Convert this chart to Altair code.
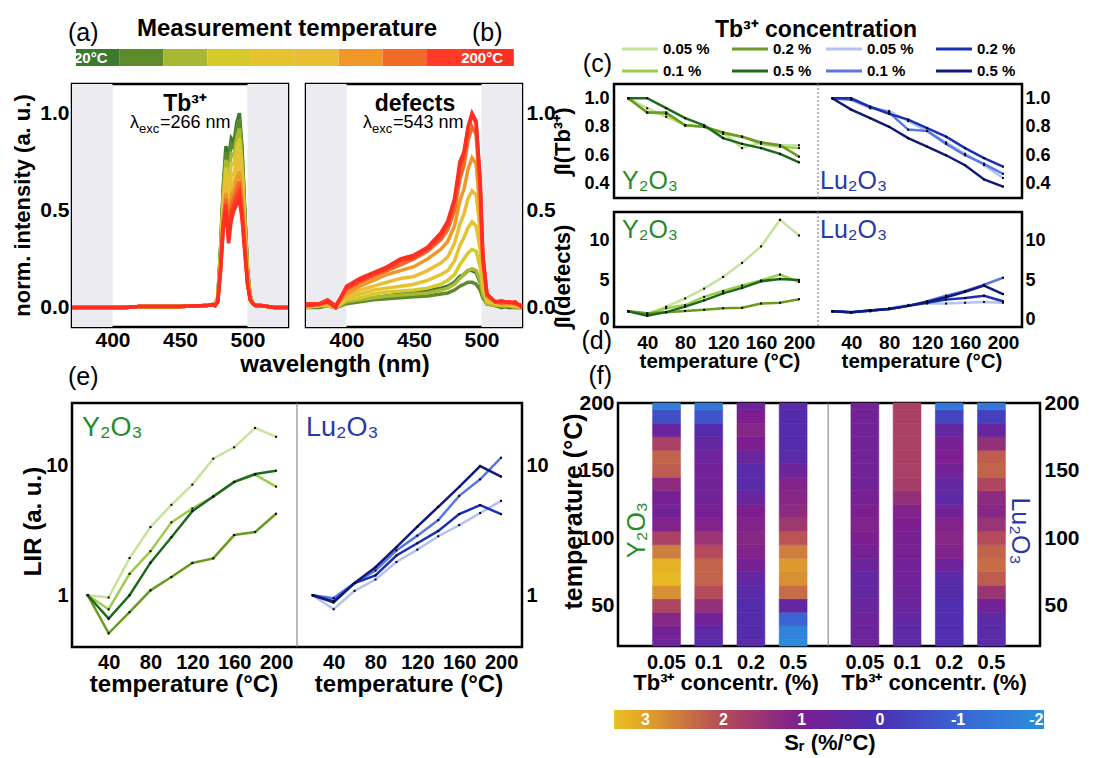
import altair as alt
import pandas as pd

FONT = "Liberation Sans"

# ---------------- measurement temperature colour bar ----------------
temps = [20, 40, 60, 80, 100, 120, 140, 160, 180, 200]
temp_colors = ["#3b7a2f", "#5f8a2c", "#a9b833", "#d5c92b", "#e6c231",
               "#ebbd34", "#ef9828", "#f26a28", "#ff3a26", "#ff2e22"]

# ---------------- (a) Tb3+ emission spectra ----------------
tb_wl_low = [370, 380, 390, 400, 410, 420, 430, 440, 450, 460, 470, 474]
tb_base_low = [0.0, 0.0, 0.0, 0.0, 0.0, 0.005, 0.005, 0.005, 0.005, 0.008, 0.01, 0.015]
tb_wl_peak = [476, 478, 480, 482, 484, 486, 488, 490, 492, 494, 496, 498, 500, 502, 504, 506]
tb_peak = {
    20: [0.02, 0.05, 0.30, 0.62, 0.83, 0.77, 0.87, 0.85, 0.95, 1.00, 0.82, 0.50, 0.20, 0.06, 0.02, 0.01],
    40: [0.02, 0.05, 0.29, 0.60, 0.80, 0.73, 0.84, 0.82, 0.92, 0.97, 0.79, 0.48, 0.19, 0.06, 0.02, 0.01],
    60: [0.02, 0.05, 0.28, 0.58, 0.76, 0.68, 0.79, 0.78, 0.87, 0.92, 0.75, 0.46, 0.18, 0.06, 0.02, 0.01],
    80: [0.02, 0.04, 0.26, 0.55, 0.72, 0.62, 0.74, 0.74, 0.82, 0.87, 0.71, 0.43, 0.17, 0.05, 0.02, 0.01],
    100: [0.02, 0.04, 0.25, 0.52, 0.67, 0.56, 0.68, 0.69, 0.76, 0.81, 0.66, 0.40, 0.16, 0.05, 0.02, 0.01],
    120: [0.01, 0.04, 0.23, 0.49, 0.63, 0.50, 0.63, 0.65, 0.71, 0.76, 0.62, 0.37, 0.15, 0.05, 0.02, 0.01],
    140: [0.01, 0.04, 0.22, 0.46, 0.59, 0.45, 0.58, 0.61, 0.66, 0.70, 0.57, 0.35, 0.14, 0.05, 0.02, 0.01],
    160: [0.01, 0.03, 0.21, 0.44, 0.56, 0.40, 0.53, 0.57, 0.61, 0.65, 0.52, 0.32, 0.13, 0.04, 0.02, 0.01],
    180: [0.01, 0.03, 0.19, 0.42, 0.53, 0.36, 0.49, 0.53, 0.57, 0.60, 0.48, 0.30, 0.12, 0.04, 0.02, 0.01],
    200: [0.01, 0.03, 0.18, 0.40, 0.50, 0.33, 0.45, 0.50, 0.53, 0.56, 0.45, 0.28, 0.12, 0.04, 0.02, 0.01],
}
tb_wl_high = [510, 515, 520, 525, 530]
tb_base_high = [0.01, 0.005, 0.0, 0.0, 0.0]

# ---------------- (b) defect emission spectra ----------------
def_wl = [370, 380, 386, 392, 400, 410, 420, 430, 440, 450, 460, 470, 475, 480,
          484, 487, 490, 493, 496, 499, 501, 504, 510, 515, 520, 525, 530]
def_spec = {
    20: [0.0, 0.01, 0.01, 0.0, 0.025, 0.04, 0.05, 0.06, 0.07, 0.08, 0.085, 0.10, 0.11, 0.13, 0.16, 0.17, 0.19, 0.19, 0.18, 0.13, 0.06, 0.02, 0.01, 0.01, 0.0, 0.0, 0.0],
    40: [0.0, 0.0, 0.01, 0.0, 0.02, 0.03, 0.04, 0.045, 0.05, 0.055, 0.06, 0.07, 0.075, 0.09, 0.11, 0.12, 0.13, 0.13, 0.12, 0.09, 0.05, 0.02, 0.01, 0.0, 0.01, 0.0, 0.0],
    60: [0.0, 0.01, 0.01, 0.0, 0.03, 0.04, 0.05, 0.06, 0.065, 0.07, 0.075, 0.09, 0.10, 0.12, 0.15, 0.17, 0.19, 0.20, 0.19, 0.14, 0.07, 0.02, 0.01, 0.01, 0.01, 0.0, 0.0],
    80: [0.0, 0.01, 0.01, 0.0, 0.04, 0.05, 0.07, 0.08, 0.085, 0.09, 0.10, 0.12, 0.14, 0.17, 0.22, 0.25, 0.28, 0.30, 0.29, 0.21, 0.10, 0.03, 0.02, 0.01, 0.01, 0.01, 0.0],
    100: [0.01, 0.01, 0.02, 0.0, 0.05, 0.07, 0.09, 0.10, 0.11, 0.12, 0.14, 0.17, 0.19, 0.24, 0.32, 0.36, 0.41, 0.44, 0.42, 0.30, 0.14, 0.04, 0.02, 0.02, 0.01, 0.01, 0.0],
    120: [0.01, 0.01, 0.02, 0.01, 0.06, 0.09, 0.11, 0.13, 0.15, 0.16, 0.19, 0.23, 0.26, 0.33, 0.43, 0.48, 0.56, 0.60, 0.58, 0.40, 0.18, 0.05, 0.02, 0.02, 0.02, 0.01, 0.01],
    140: [0.01, 0.02, 0.02, 0.01, 0.07, 0.11, 0.14, 0.17, 0.19, 0.21, 0.25, 0.30, 0.34, 0.42, 0.55, 0.61, 0.71, 0.77, 0.74, 0.50, 0.22, 0.06, 0.03, 0.02, 0.02, 0.02, 0.01],
    160: [0.01, 0.02, 0.03, 0.01, 0.09, 0.13, 0.16, 0.19, 0.22, 0.25, 0.29, 0.35, 0.40, 0.50, 0.66, 0.73, 0.86, 0.93, 0.89, 0.60, 0.25, 0.06, 0.03, 0.02, 0.03, 0.02, 0.01],
    180: [0.02, 0.02, 0.04, 0.01, 0.10, 0.14, 0.17, 0.20, 0.24, 0.26, 0.30, 0.37, 0.43, 0.55, 0.72, 0.79, 0.92, 0.99, 0.95, 0.64, 0.26, 0.07, 0.03, 0.03, 0.03, 0.02, 0.01],
    200: [0.01, 0.015, 0.03, 0.0, 0.11, 0.15, 0.18, 0.21, 0.25, 0.27, 0.31, 0.385, 0.445, 0.56, 0.75, 0.80, 0.93, 1.0, 0.96, 0.66, 0.27, 0.07, 0.03, 0.035, 0.025, 0.03, 0.0],
}

# ---------------- (c)(d)(e) integrated intensities and LIR ----------------
T_series = [20, 40, 60, 80, 100, 120, 140, 160, 180, 200]
hosts = ["Y2O3", "Lu2O3"]
concs = ["0.05 %", "0.1 %", "0.2 %", "0.5 %"]
series_colors = {
    "Y2O3 0.05 %": "#c5e39a", "Y2O3 0.1 %": "#9ccc4c",
    "Y2O3 0.2 %": "#6b9a22", "Y2O3 0.5 %": "#1c6b1c",
    "Lu2O3 0.05 %": "#b4c2f0", "Lu2O3 0.1 %": "#5a78e2",
    "Lu2O3 0.2 %": "#1a30b4", "Lu2O3 0.5 %": "#101a7c",
}
tb_int = {
    "Y2O3 0.05 %": [1.0, 0.93, 0.87, 0.81, 0.80, 0.76, 0.65, 0.69, 0.67, 0.67],
    "Y2O3 0.1 %": [1.0, 0.90, 0.89, 0.81, 0.80, 0.75, 0.73, 0.68, 0.66, 0.65],
    "Y2O3 0.2 %": [1.0, 0.90, 0.90, 0.81, 0.80, 0.76, 0.73, 0.69, 0.67, 0.59],
    "Y2O3 0.5 %": [1.0, 1.0, 0.93, 0.86, 0.81, 0.72, 0.68, 0.65, 0.61, 0.55],
    "Lu2O3 0.05 %": [1.0, 0.99, 0.93, 0.91, 0.84, 0.77, 0.69, 0.61, 0.53, 0.44],
    "Lu2O3 0.1 %": [1.0, 0.99, 0.94, 0.90, 0.78, 0.77, 0.68, 0.60, 0.54, 0.47],
    "Lu2O3 0.2 %": [1.0, 1.0, 0.94, 0.89, 0.85, 0.79, 0.73, 0.65, 0.58, 0.52],
    "Lu2O3 0.5 %": [1.0, 0.92, 0.86, 0.80, 0.72, 0.66, 0.60, 0.53, 0.43, 0.38],
}
def_int = {
    "Y2O3 0.05 %": [1.0, 0.63, 1.6, 2.65, 3.9, 5.4, 7.2, 9.3, 12.7, 10.7],
    "Y2O3 0.1 %": [1.0, 0.6, 1.4, 1.8, 2.85, 3.6, 4.3, 4.95, 5.7, 4.75],
    "Y2O3 0.2 %": [1.0, 0.75, 0.9, 1.05, 1.2, 1.4, 1.45, 2.0, 2.1, 2.55],
    "Y2O3 0.5 %": [1.0, 0.45, 0.9, 1.6, 2.4, 3.3, 4.0, 4.85, 5.15, 5.0],
    "Lu2O3 0.05 %": [1.0, 0.85, 1.0, 1.4, 1.8, 2.0, 2.0, 2.1, 2.2, 2.1],
    "Lu2O3 0.1 %": [1.0, 0.9, 1.1, 1.3, 1.7, 2.3, 3.0, 3.6, 4.4, 5.3],
    "Lu2O3 0.2 %": [1.0, 0.9, 1.1, 1.3, 1.7, 2.1, 2.5, 2.7, 3.0, 2.3],
    "Lu2O3 0.5 %": [1.0, 0.9, 1.1, 1.3, 1.7, 2.2, 2.8, 3.5, 4.3, 3.2],
}
lir = {
    "Y2O3 0.05 %": [1.0, 0.96, 1.93, 3.34, 4.95, 7.08, 11.2, 13.7, 19.3, 16.5],
    "Y2O3 0.1 %": [1.0, 0.78, 1.46, 2.18, 3.63, 4.64, 5.73, 7.42, 8.44, 6.83],
    "Y2O3 0.2 %": [1.0, 0.51, 0.74, 1.09, 1.38, 1.77, 1.92, 2.90, 3.06, 4.23],
    "Y2O3 0.5 %": [1.0, 0.66, 1.0, 1.78, 2.79, 4.43, 5.73, 7.42, 8.53, 9.06],
    "Lu2O3 0.05 %": [1.0, 0.78, 1.08, 1.32, 1.80, 2.24, 2.84, 3.46, 4.28, 5.31],
    "Lu2O3 0.1 %": [1.0, 0.95, 1.24, 1.55, 2.21, 2.87, 3.78, 5.8, 7.78, 11.4],
    "Lu2O3 0.2 %": [1.0, 0.90, 1.24, 1.42, 2.02, 2.51, 3.12, 4.2, 4.92, 4.2],
    "Lu2O3 0.5 %": [1.0, 0.88, 1.24, 1.64, 2.34, 3.36, 4.78, 6.79, 9.82, 8.15],
}

# ---------------- (f) relative sensitivity maps ----------------
heat_T = [20, 30, 40, 50, 60, 70, 80, 90, 100, 110, 120, 130, 140, 150, 160, 170, 180, 190, 200]
sr_map = {
    "Y2O3 0.05 %": [0.7, 0.8, 1.2, 1.9, 2.8, 3.3, 3.2, 2.6, 1.8, 1.1, 0.8, 0.9, 1.3, 2.2, 2.3, 1.8, 0.6, -0.6, -1.6],
    "Y2O3 0.1 %": [0.3, 0.4, 0.8, 1.4, 2.0, 2.3, 2.3, 2.0, 1.5, 1.1, 0.9, 0.8, 0.8, 0.8, 0.7, 0.5, 0.2, -0.7, -1.5],
    "Y2O3 0.2 %": [0.3, 0.2, 0.2, 0.2, 0.3, 0.5, 0.9, 1.1, 1.2, 1.1, 1.0, 0.6, 0.3, 0.3, 0.6, 1.0, 1.2, 1.0, 0.7],
    "Y2O3 0.5 %": [-2.0, -1.8, -1.0, 0.5, 2.4, 2.8, 2.9, 2.6, 2.1, 1.6, 1.3, 1.2, 1.1, 0.7, 0.3, 0.2, 0.2, 0.2, 0.3],
    "Lu2O3 0.05 %": [0.7, 0.7, 0.7, 0.6, 0.5, 0.5, 0.7, 0.9, 1.0, 1.1, 1.0, 0.9, 0.8, 0.8, 0.8, 0.8, 0.8, 0.8, 0.8],
    "Lu2O3 0.1 %": [0.4, 0.4, 0.5, 0.6, 0.7, 0.8, 0.8, 0.9, 0.9, 1.0, 1.1, 1.4, 1.7, 1.8, 1.8, 1.8, 1.8, 1.8, 1.8],
    "Lu2O3 0.2 %": [0.1, 0.1, 0.1, 0.1, 0.2, 0.3, 0.7, 1.1, 1.2, 1.1, 0.8, 0.4, 0.5, 0.8, 1.0, 0.9, 0.5, -0.4, -1.5],
    "Lu2O3 0.5 %": [0.3, 0.3, 0.4, 0.8, 1.5, 2.2, 2.4, 2.3, 2.0, 1.5, 1.2, 1.3, 1.9, 2.3, 2.2, 1.4, 0.6, -0.3, -1.5],
}
sr_stops = [-2.1, -1.0, 0.0, 1.0, 2.0, 3.0, 3.4]
sr_colors = ["#2b8fdc", "#3a64d2", "#4a30b2", "#7c1e90", "#b54a5a", "#e0a22a", "#ebc022"]
sr_ticks = [3, 2, 1, 0, -1, -2]

# ================= data frames =================
rows = []
for T in temps:
    wl_all = tb_wl_low + tb_wl_peak + tb_wl_high
    v_all = tb_base_low + tb_peak[T] + tb_base_high
    for w, v in zip(wl_all, v_all):
        rows.append({"T": T, "wl": w, "v": v})
df_tb = pd.DataFrame(rows)

rows = []
for T in temps:
    for w, v in zip(def_wl, def_spec[T]):
        rows.append({"T": T, "wl": w, "v": v})
df_def = pd.DataFrame(rows)

LU_SHIFT = 215
rows = []
for host in hosts:
    for conc in concs:
        s = host + " " + conc
        for i, T in enumerate(T_series):
            rows.append({"series": s, "T": T,
                         "xpos": T + (LU_SHIFT if host == "Lu2O3" else 0),
                         "tb": tb_int[s][i], "de": def_int[s][i], "lir": lir[s][i]})
df_lines = pd.DataFrame(rows)

series_names = list(series_colors.keys())
series_scale = alt.Scale(domain=series_names, range=[series_colors[s] for s in series_names])
temp_scale = alt.Scale(domain=temps, range=temp_colors)
sr_scale = alt.Scale(domain=sr_stops, range=sr_colors, interpolate="rgb")

rows = []
for host in hosts:
    for k, conc in enumerate(concs):
        s = host + " " + conc
        pos = (1.15 if host == "Y2O3" else 5.85) + k
        vals = sr_map[s]
        for j, T in enumerate(heat_T):
            rows.append({"series": s, "x1": pos - 0.33, "x2": pos + 0.33,
                         "y1": max(T - 5, 20), "y2": min(T + 5, 200), "sr": vals[j]})
df_heat = pd.DataFrame(rows)
df_flab = pd.DataFrame({
    "pos": [1.15 + k for k in range(4)] + [5.85 + k for k in range(4)],
    "lab": [c.replace(" %", "") for c in concs] * 2,
})

NOSTROKE = alt.ViewBackground(stroke="transparent")


def txt(s, x, y, size, weight="normal", color="black", align="left",
        baseline="alphabetic", angle=0):
    return alt.Chart(pd.DataFrame({"s": [s]})).mark_text(
        align=align, baseline=baseline, fontSize=size, fontWeight=weight,
        color=color, font=FONT, angle=angle
    ).encode(text="s:N", x=alt.value(x), y=alt.value(y))


def lam(x, y, rest):
    return [txt("λ", x, y, 18), txt("exc", x + 9, y + 5, 13), txt(rest, x + 30, y, 18)]


# ================= top row: temperature bar + legend =================
df_tbar = pd.DataFrame({"T": temps, "i0": list(range(10)), "i1": list(range(1, 11))})
tbar = alt.layer(
    alt.Chart(pd.DataFrame({"a": [0]})).mark_rect(opacity=0).encode(
        x=alt.value(-70), x2=alt.value(-68), y=alt.value(-47), y2=alt.value(-45)),
    alt.Chart(df_tbar).mark_rect().encode(
        x=alt.X("i0:Q", scale=alt.Scale(domain=[-0.09, 9.89], nice=False, zero=False), axis=None),
        x2="i1:Q",
        color=alt.Color("T:O", scale=temp_scale, legend=None)),
    txt("20°C", 2, 9, 15, "bold", "white", baseline="middle"),
    txt("200°C", 431, 9, 15, "bold", "white", align="right", baseline="middle"),
    txt("Measurement temperature", 215, -13, 24, "bold", align="center"),
    txt("(a)", -4, -8, 25),
    txt("(b)", 400, -8, 25),
).properties(width=437, height=17, view=NOSTROKE)

leg_cols = [["Y2O3 0.05 %", "Y2O3 0.1 %"], ["Y2O3 0.2 %", "Y2O3 0.5 %"],
            ["Lu2O3 0.05 %", "Lu2O3 0.1 %"], ["Lu2O3 0.2 %", "Lu2O3 0.5 %"]]
leg_x0 = [8, 118, 212, 322]
rows = []
for c, pair in enumerate(leg_cols):
    for r, s in enumerate(pair):
        rows.append({"series": s, "lab": s.split(" ", 1)[1], "row": r,
                     "x0": leg_x0[c], "x1": leg_x0[c] + 36, "xt": leg_x0[c] + 41})
df_leg = pd.DataFrame(rows)
leg_xs = alt.Scale(domain=[0, 408], nice=False, zero=False)
leg_ys = alt.Scale(domain=[0, 1], range=[0, 22])
legend_view = alt.layer(
    alt.Chart(df_leg).mark_rule(strokeWidth=3).encode(
        x=alt.X("x0:Q", scale=leg_xs, axis=None), x2="x1:Q",
        y=alt.Y("row:Q", scale=leg_ys, axis=None),
        color=alt.Color("series:N", scale=series_scale, legend=None)),
    alt.Chart(df_leg).mark_text(align="left", baseline="middle", fontSize=15,
                                fontWeight="bold", font=FONT, color="black").encode(
        x=alt.X("xt:Q", scale=leg_xs, axis=None),
        y=alt.Y("row:Q", scale=leg_ys, axis=None), text="lab:N"),
    txt("Tb³⁺ concentration", 202, -12, 23, "bold", align="center"),
    txt("(c)", -2, 23, 25, align="right"),
).properties(width=408, height=17, view=NOSTROKE)

# ================= (a) and (b) =================
wl_scale = alt.Scale(domain=[370, 530], nice=False, zero=False)
int_scale = alt.Scale(domain=[-0.1, 1.15], nice=False, zero=False)


def x_wl(field):
    return alt.X(field, scale=wl_scale,
                 axis=alt.Axis(values=[400, 450, 500], title=None, labelFontSize=21, labelPadding=2))


shade_df = pd.DataFrame({"s0": [370, 500], "s1": [400, 530]})


def spectra_panel(df, right):
    shade = alt.Chart(shade_df).mark_rect(color="#ececf0").encode(x=x_wl("s0:Q"), x2="s1:Q")
    if right:
        yax = alt.Axis(values=[0, 0.5, 1.0], format=".1f", title=None, orient="right",
                       labelFontSize=21, labelPadding=4)
    else:
        yax = alt.Axis(values=[0, 0.5, 1.0], format=".1f", title="norm. intensity (a. u.)",
                       titleFontSize=22, labelFontSize=21, labelPadding=3,
                       titleX=-50, titleY=121, titleAlign="center", titleBaseline="middle")
    lines = alt.Chart(df).mark_line(strokeWidth=3.5).encode(
        x=x_wl("wl:Q"), y=alt.Y("v:Q", scale=int_scale, axis=yax),
        color=alt.Color("T:O", scale=temp_scale, legend=None),
        order=alt.Order("wl:Q"))
    return shade, lines


sa, la = spectra_panel(df_tb, False)
panel_a = alt.layer(
    sa, la,
    txt("Tb³⁺", 113, 27, 23, "bold", align="center"),
    *lam(58, 44, "=266 nm"),
).properties(width=216, height=243)

sb, lb = spectra_panel(df_def, True)
panel_b = alt.layer(
    sb, lb,
    txt("defects", 109, 27, 23, "bold", align="center"),
    *lam(57, 44, "=543 nm"),
    txt("wavelength (nm)", 29, 288, 24, "bold", align="center"),
).properties(width=216, height=243)

# ================= (c) and (d) =================
XT_VALUES = [40, 80, 120, 160, 200, 255, 295, 335, 375, 415]
T_LABEL_EXPR = "datum.value > 220 ? '' + (datum.value - 215) : '' + datum.value"
xT_scale = alt.Scale(domain=[5, 435], nice=False, zero=False)


def x_temp(field, labels, size=19, pad=6):
    if labels:
        ax = alt.Axis(values=XT_VALUES, labelExpr=T_LABEL_EXPR, title=None,
                      labelFontSize=size, labelPadding=pad, labelOverlap=False, labelFlush=False)
        return alt.X(field, scale=xT_scale, axis=ax)
    return alt.X(field, scale=xT_scale, axis=None)


def divider(labels, dashed, size=19, pad=6):
    if dashed:
        mk = dict(color="#888888", strokeWidth=1.2, strokeDash=[2, 2])
    else:
        mk = dict(color="#777777", strokeWidth=1)
    return alt.Chart(pd.DataFrame({"d": [220]})).mark_rule(**mk).encode(
        x=x_temp("d:Q", labels, size, pad))


color_series = alt.Color("series:N", scale=series_scale, legend=None)

tb_scale = alt.Scale(domain=[0.3, 1.1], nice=False, zero=False)
base = alt.Chart(df_lines)
panel_c = alt.layer(
    divider(False, True),
    base.mark_line(strokeWidth=2.5).encode(
        x=x_temp("xpos:Q", False),
        y=alt.Y("tb:Q", scale=tb_scale,
                axis=alt.Axis(values=[0.4, 0.6, 0.8, 1.0], format=".1f", title="∫I(Tb³⁺)",
                              titleFontSize=22, labelFontSize=18, labelPadding=5,
                              titleX=-52, titleY=57, titleAlign="center", titleBaseline="middle")),
        color=color_series),
    base.mark_point(shape="square", size=4, filled=True, color="black", opacity=1).encode(
        x=x_temp("xpos:Q", False),
        y=alt.Y("tb:Q", scale=tb_scale,
                axis=alt.Axis(values=[0.4, 0.6, 0.8, 1.0], format=".1f", title=None,
                              orient="right", labelFontSize=18, labelPadding=3))),
    txt("Y₂O₃", 8, 105, 25, color="#2a8a2a"),
    txt("Lu₂O₃", 206, 105, 25, color="#2a38a8"),
).resolve_scale(y="independent").properties(width=408, height=114)

de_scale = alt.Scale(domain=[-1, 13.7], nice=False, zero=False)
panel_d = alt.layer(
    divider(True, True),
    base.mark_line(strokeWidth=2.5).encode(
        x=x_temp("xpos:Q", True),
        y=alt.Y("de:Q", scale=de_scale,
                axis=alt.Axis(values=[0, 5, 10], title="∫I(defects)",
                              titleFontSize=22, labelFontSize=18, labelPadding=5,
                              titleX=-52, titleY=64, titleAlign="center", titleBaseline="middle")),
        color=color_series),
    base.mark_point(shape="square", size=4, filled=True, color="black", opacity=1).encode(
        x=x_temp("xpos:Q", True),
        y=alt.Y("de:Q", scale=de_scale,
                axis=alt.Axis(values=[0, 5, 10], title=None, orient="right",
                              labelFontSize=18, labelPadding=3))),
    txt("Y₂O₃", 8, 26, 25, color="#2a8a2a"),
    txt("Lu₂O₃", 206, 26, 25, color="#2a38a8"),
    txt("temperature (°C)", 106, 156, 20.5, "bold", align="center"),
    txt("temperature (°C)", 308, 156, 20.5, "bold", align="center"),
    txt("(d)", -2, 137, 25, align="right"),
).resolve_scale(y="independent").properties(width=408, height=115)

# ================= (e) =================
lir_scale = alt.Scale(type="log", domain=[0.4, 30], nice=False)
panel_e = alt.layer(
    divider(True, False, 20, 5),
    base.mark_line(strokeWidth=2.5).encode(
        x=x_temp("xpos:Q", True, 20, 5),
        y=alt.Y("lir:Q", scale=lir_scale,
                axis=alt.Axis(values=[1, 10], format="d", title="LIR (a. u.)",
                              titleFontSize=24, labelFontSize=20, labelPadding=4,
                              titleX=-39, titleY=118, titleAlign="center", titleBaseline="middle")),
        color=color_series),
    base.mark_point(shape="square", size=4, filled=True, color="black", opacity=1).encode(
        x=x_temp("xpos:Q", True, 20, 5),
        y=alt.Y("lir:Q", scale=lir_scale,
                axis=alt.Axis(values=[1, 10], format="d", title=None, orient="right",
                              labelFontSize=20, labelPadding=4))),
    txt("Y₂O₃", 10, 33, 27, color="#2a8a2a"),
    txt("Lu₂O₃", 234, 33, 27, color="#2a38a8"),
    txt("temperature (°C)", 112, 289, 24, "bold", align="center"),
    txt("temperature (°C)", 337, 289, 24, "bold", align="center"),
    txt("(e)", -4, -18, 25),
).resolve_scale(y="independent").properties(width=450, height=244)

# ================= (f) =================
fx_scale = alt.Scale(domain=[0, 10], nice=False, zero=False)
fy_scale = alt.Scale(domain=[20, 200], nice=False, zero=False)
heat_base = alt.Chart(df_heat)
panel_f = alt.layer(
    heat_base.mark_rect(strokeWidth=0.6).encode(
        x=alt.X("x1:Q", scale=fx_scale, axis=None), x2="x2:Q",
        y=alt.Y("y1:Q", scale=fy_scale,
                axis=alt.Axis(values=[50, 100, 150, 200], title="temperature (°C)",
                              titleFontSize=25, labelFontSize=21, labelPadding=4,
                              titleX=-45, titleY=108, titleAlign="center", titleBaseline="middle")),
        y2="y2:Q",
        color=alt.Color("sr:Q", scale=sr_scale, legend=None),
        stroke=alt.Stroke("sr:Q", scale=sr_scale, legend=None)),
    heat_base.mark_rect(opacity=0).encode(
        x=alt.X("x1:Q", scale=fx_scale, axis=None), x2="x2:Q",
        y=alt.Y("y1:Q", scale=fy_scale,
                axis=alt.Axis(values=[50, 100, 150, 200], title=None, orient="right",
                              labelFontSize=21, labelPadding=4)),
        y2="y2:Q"),
    alt.Chart(pd.DataFrame({"d": [4.98]})).mark_rule(color="#777777", strokeWidth=1).encode(
        x=alt.X("d:Q", scale=fx_scale, axis=None)),
    alt.Chart(df_flab).mark_text(fontSize=20, fontWeight="bold", font=FONT, color="black",
                                 baseline="alphabetic").encode(
        x=alt.X("pos:Q", scale=fx_scale, axis=None), y=alt.value(266), text="lab:N"),
    txt("Tb³⁺ concentr. (%)", 108, 287, 22, "bold", align="center"),
    txt("Tb³⁺ concentr. (%)", 316, 287, 22, "bold", align="center"),
    txt("Y₂O₃", 19, 127, 25, color="#2a8a2a", align="center", baseline="middle", angle=270),
    txt("Lu₂O₃", 402, 128, 25, color="#2a38a8", align="center", baseline="middle", angle=90),
    txt("(f)", -6, -19, 25, align="right"),
).resolve_scale(y="independent").properties(width=422, height=243)

# colour bar of S_r
grad_stops = [{"offset": round((3.4 - d) / 5.5, 4), "color": c}
              for d, c in sorted(zip(sr_stops, sr_colors), key=lambda t: -t[0])]
cb_scale = alt.Scale(domain=[-2.15, 3.35], reverse=True, nice=False, zero=False)
cbar = alt.layer(
    alt.Chart(pd.DataFrame({"a": [3.4], "b": [-2.1]})).mark_rect(
        color={"gradient": "linear", "x1": 0, "x2": 1, "y1": 0, "y2": 0, "stops": grad_stops}
    ).encode(x=alt.X("a:Q", scale=cb_scale, axis=None), x2="b:Q"),
    alt.Chart(pd.DataFrame({"v": sr_ticks, "lab": [str(t) for t in sr_ticks]})).mark_text(
        color="white", fontWeight="bold", fontSize=16, font=FONT, baseline="middle").encode(
        x=alt.X("v:Q", scale=cb_scale, axis=None), y=alt.value(10), text="lab:N"),
    txt("Sᵣ (%/°C)", 212, 40, 22, "bold", align="center"),
).properties(width=430, height=19, view=NOSTROKE)

# ================= assemble =================
# With flush bounds a nested concat counts as zero size in its parent, so the
# spacing after a nested block is the full offset of the next block.
IND = dict(color="independent", stroke="independent")
row0 = alt.hconcat(tbar, legend_view, spacing=105, bounds="flush").resolve_scale(**IND)
row1 = alt.hconcat(
    alt.hconcat(panel_a, panel_b, spacing=18, bounds="flush").resolve_scale(**IND),
    alt.vconcat(panel_c, panel_d, spacing=14, bounds="flush").resolve_scale(**IND),
    spacing=542, bounds="flush").resolve_scale(**IND)
top = alt.vconcat(row0, row1, spacing=35, bounds="flush").resolve_scale(**IND)
row2 = alt.hconcat(
    panel_e,
    alt.vconcat(panel_f, cbar, spacing=64, bounds="flush").resolve_scale(**IND),
    spacing=96, bounds="flush").resolve_scale(**IND)

chart = alt.vconcat(top, row2, spacing=354, bounds="flush").resolve_scale(**IND).properties(
    padding=0
).configure(font=FONT, background="white").configure_view(
    stroke="black", strokeWidth=2.5
).configure_axis(
    labelFont=FONT, titleFont=FONT, labelFontWeight="bold", titleFontWeight="bold",
    labelColor="black", titleColor="black", domain=False, ticks=False, grid=False
)

chart.save("out.html", embed_options={"renderer": "svg", "actions": False})
